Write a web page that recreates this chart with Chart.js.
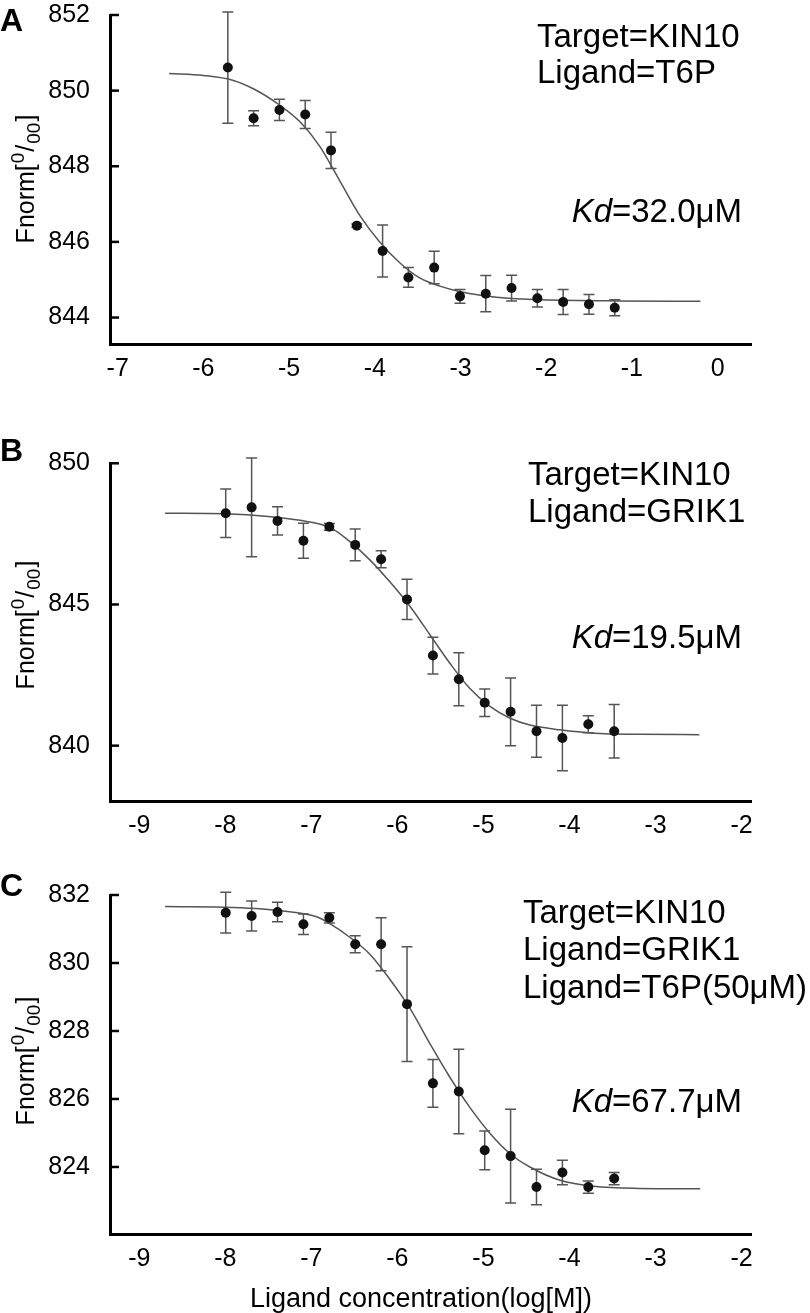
<!DOCTYPE html>
<html>
<head>
<meta charset="utf-8">
<title>MST binding curves</title>
<script src="https://cdn.jsdelivr.net/npm/chart.js@4.4.1/dist/chart.umd.min.js"></script>
<style>
    body { margin: 0; background: #fff; }
    #page { position: relative; width: 810px; height: 1313px; overflow: hidden; background: #fff; }
    #page canvas { position: absolute; left: 0; }
</style>
</head>
<body>
<div id="page">
    <canvas id="chart-a" width="810" height="420" style="top:-20px"></canvas>
    <canvas id="chart-b" width="810" height="440" style="top:420px"></canvas>
    <canvas id="chart-c" width="810" height="453" style="top:860px"></canvas>
</div>
<script>
//Panel A: KIN10 + T6P
const A_LOG_CONC = [-5.715, -5.414, -5.113, -4.812, -4.511, -4.21, -3.909, -3.608, -3.307, -3.006, -2.705, -2.404, -2.103, -1.802, -1.501, -1.2];
const A_FNORM = [850.61, 849.27, 849.49, 849.37, 848.42, 846.43, 845.76, 845.06, 845.32, 844.56, 844.63, 844.78, 844.51, 844.41, 844.35, 844.26];
const A_ERR = [1.47, 0.20, 0.28, 0.37, 0.48, 0.04, 0.69, 0.26, 0.43, 0.18, 0.48, 0.34, 0.23, 0.33, 0.26, 0.21];
const A_FIT_X = [-6.40, -6.00, -5.65, -5.40, -5.10, -4.87, -4.64, -4.41, -4.17, -3.94, -3.70, -3.47, -3.24, -3.00, -2.77, -2.40, -2.07, -1.20, -0.20];
const A_FIT_Y = [850.45, 850.40, 850.27, 850.03, 849.60, 849.17, 848.52, 847.62, 846.68, 845.99, 845.43, 845.04, 844.83, 844.68, 844.59, 844.50, 844.47, 844.44, 844.43];
const A_X_TICKS = [-7, -6, -5, -4, -3, -2, -1, 0];
const A_Y_TICKS = [844, 846, 848, 850, 852];

//Panel B: KIN10 + GRIK1
const B_LOG_CONC = [-7.995, -7.694, -7.393, -7.092, -6.791, -6.49, -6.189, -5.888, -5.587, -5.286, -4.985, -4.684, -4.383, -4.082, -3.781, -3.48];
const B_FNORM = [848.23, 848.44, 847.96, 847.26, 847.75, 847.11, 846.60, 845.18, 843.19, 842.35, 841.52, 841.20, 840.51, 840.27, 840.76, 840.51];
const B_ERR = [0.86, 1.75, 0.50, 0.62, 0.12, 0.56, 0.30, 0.71, 0.65, 0.94, 0.49, 1.20, 0.92, 1.16, 0.30, 0.95];
const B_FIT_X = [-8.70, -8.00, -7.50, -7.13, -6.78, -6.55, -6.32, -6.09, -5.85, -5.62, -5.39, -5.16, -4.92, -4.69, -4.46, -4.11, -3.72, -3.20, -2.49];
const B_FIT_Y = [848.23, 848.21, 848.12, 847.98, 847.72, 847.22, 846.58, 845.81, 844.92, 843.92, 842.92, 842.03, 841.38, 840.97, 840.73, 840.56, 840.44, 840.40, 840.39];
const B_X_TICKS = [-9, -8, -7, -6, -5, -4, -3, -2];
const B_Y_TICKS = [840, 845, 850];

//Panel C: KIN10 + GRIK1 with T6P (50 uM)
const C_LOG_CONC = [-7.995, -7.694, -7.393, -7.092, -6.791, -6.49, -6.189, -5.888, -5.587, -5.286, -4.985, -4.684, -4.383, -4.082, -3.781, -3.48];
const C_FNORM = [831.48, 831.38, 831.50, 831.14, 831.33, 830.55, 830.55, 828.79, 826.46, 826.22, 824.49, 824.32, 823.41, 823.84, 823.41, 823.66];
const C_ERR = [0.60, 0.44, 0.29, 0.30, 0.15, 0.25, 0.78, 1.69, 0.70, 1.24, 0.57, 1.38, 0.52, 0.36, 0.18, 0.18];
const C_FIT_X = [-8.70, -7.91, -7.33, -6.94, -6.78, -6.55, -6.32, -6.09, -5.85, -5.62, -5.39, -5.16, -4.92, -4.69, -4.46, -4.11, -3.72, -3.20, -2.48];
const C_FIT_Y = [831.66, 831.63, 831.53, 831.36, 831.15, 830.75, 830.26, 829.53, 828.65, 827.62, 826.64, 825.76, 824.98, 824.39, 824.00, 823.61, 823.43, 823.37, 823.36];
const C_X_TICKS = [-9, -8, -7, -6, -5, -4, -3, -2];
const C_Y_TICKS = [824, 826, 828, 830, 832];

const FONT = "'Liberation Sans', Arial, Helvetica, sans-serif";
const X_SCALE_HEIGHT = 50;

$ready();

function $ready(){
    //functions and methods
    build_panel('chart-a', {
        letter: 'A', canvas_top: -20, canvas_height: 420, chart_top: 7, chart_bottom: 344,
        x_min: -7.09, x_max: 0.39, y_min: 843.30, y_max: 852,
        log_conc: A_LOG_CONC, fnorm: A_FNORM, err: A_ERR, fit_x: A_FIT_X, fit_y: A_FIT_Y,
        x_ticks: A_X_TICKS, y_ticks: A_Y_TICKS,
        letter_y: 31, title_y: 179,
        lines: [[537, 47, 'Target=KIN10'], [537, 83, 'Ligand=T6P']],
        kd: '=32.0\u03bcM', kd_y: 222, x_title: false
    });
    build_panel('chart-b', {
        letter: 'B', canvas_top: 420, canvas_height: 440, chart_top: 463.3, chart_bottom: 801,
        x_min: -9.34, x_max: -1.89, y_min: 838.04, y_max: 850,
        log_conc: B_LOG_CONC, fnorm: B_FNORM, err: B_ERR, fit_x: B_FIT_X, fit_y: B_FIT_Y,
        x_ticks: B_X_TICKS, y_ticks: B_Y_TICKS,
        letter_y: 461, title_y: 625,
        lines: [[528, 485, 'Target=KIN10'], [528, 521.7, 'Ligand=GRIK1']],
        kd: '=19.5\u03bcM', kd_y: 648, x_title: false
    });
    build_panel('chart-c', {
        letter: 'C', canvas_top: 860, canvas_height: 453, chart_top: 894, chart_bottom: 1234.3,
        x_min: -9.34, x_max: -1.89, y_min: 822.02, y_max: 832,
        log_conc: C_LOG_CONC, fnorm: C_FNORM, err: C_ERR, fit_x: C_FIT_X, fit_y: C_FIT_Y,
        x_ticks: C_X_TICKS, y_ticks: C_Y_TICKS,
        letter_y: 896, title_y: 1061,
        lines: [[523, 923.3, 'Target=KIN10'], [523, 960, 'Ligand=GRIK1'], [523, 998.3, 'Ligand=T6P(50\u03bcM)']],
        kd: '=67.7\u03bcM', kd_y: 1111.7, x_title: true
    });
}

//One chart per panel: fitted curve + mean points, error bars and texts from a plugin
function build_panel(canvas_id, panel){
    const canvas = document.getElementById(canvas_id);
    const pad_top = panel.chart_top - panel.canvas_top;
    const pad_bottom = panel.canvas_top + panel.canvas_height - panel.chart_bottom - X_SCALE_HEIGHT;

    const fit = panel.fit_x.map((x, i) => ({x: x, y: panel.fit_y[i]}));
    const points = panel.log_conc.map((x, i) => ({x: x, y: panel.fnorm[i]}));

    const data = {
        datasets: [{
            type: 'line',
            data: fit,
            borderColor: '#555',
            borderWidth: 1.5,
            pointRadius: 0,
            cubicInterpolationMode: 'monotone',
            fill: false,
            order: 2
        }, {
            type: 'scatter',
            data: points,
            backgroundColor: '#111',
            borderColor: '#111',
            borderWidth: 0,
            pointRadius: 5,
            pointHoverRadius: 5,
            order: 0
        }]
    }

    const tick_font = {family: FONT, size: 25};

    const config = {
        type: 'scatter',
        data: data,
        options: {
            responsive: false,
            animation: false,
            events: [],
            layout: {padding: {top: pad_top, bottom: pad_bottom, left: 0, right: 59}},
            plugins: {legend: {display: false}, tooltip: {enabled: false}},
            scales: {
                x: {
                    type: 'linear', min: panel.x_min, max: panel.x_max,
                    afterBuildTicks: s => { s.ticks = panel.x_ticks.map(v => ({value: v})); },
                    afterFit: s => { s.height = X_SCALE_HEIGHT; },
                    grid: {display: false, drawTicks: false},
                    border: {display: true, color: '#000', width: 3},
                    ticks: {color: '#000', font: tick_font, padding: 10, maxRotation: 0, autoSkip: false}
                },
                y: {
                    type: 'linear', min: panel.y_min, max: panel.y_max,
                    afterBuildTicks: s => { s.ticks = panel.y_ticks.map(v => ({value: v})); },
                    afterFit: s => { s.width = 110; },
                    grid: {display: false, drawTicks: false},
                    border: {display: true, color: '#000', width: 3},
                    ticks: {color: '#000', font: tick_font, padding: 20, autoSkip: false}
                }
            }
        },
        plugins: [panel_decor(panel)]
    }

    new Chart(canvas, config);
}

function panel_decor(panel){
    const off = panel.canvas_top;
    return {
        id: 'panel_decor',
        beforeDatasetsDraw(chart){
            const {ctx, scales: {x, y}} = chart;
            ctx.save();
            ctx.strokeStyle = '#555';
            ctx.lineWidth = 1.5;
            panel.log_conc.forEach((c, i) => {
                const px = x.getPixelForValue(c);
                const top = y.getPixelForValue(panel.fnorm[i] + panel.err[i]);
                const bottom = y.getPixelForValue(panel.fnorm[i] - panel.err[i]);
                ctx.beginPath();
                ctx.moveTo(px, top); ctx.lineTo(px, bottom);
                ctx.moveTo(px - 5.5, top); ctx.lineTo(px + 5.5, top);
                ctx.moveTo(px - 5.5, bottom); ctx.lineTo(px + 5.5, bottom);
                ctx.stroke();
            });
            ctx.restore();
        },
        afterDraw(chart){
            const {ctx, chartArea, scales: {y}} = chart;
            ctx.save();

            //inward tick marks on the y axis
            ctx.strokeStyle = '#000';
            ctx.lineWidth = 2.5;
            y.ticks.forEach(t => {
                const py = y.getPixelForValue(t.value);
                ctx.beginPath();
                ctx.moveTo(chartArea.left, py);
                ctx.lineTo(chartArea.left + 9, py);
                ctx.stroke();
            });

            ctx.fillStyle = '#000';
            ctx.textBaseline = 'alphabetic';

            //panel letter
            ctx.textAlign = 'left';
            ctx.font = 'bold 32px ' + FONT;
            ctx.fillText(panel.letter, 0, panel.letter_y - off);

            //target / ligand lines
            ctx.font = '33px ' + FONT;
            panel.lines.forEach(l => ctx.fillText(l[2], l[0], l[1] - off));

            //Kd, italic part then the value
            ctx.textAlign = 'right';
            ctx.fillText(panel.kd, 742, panel.kd_y - off);
            const w = ctx.measureText(panel.kd).width;
            ctx.font = 'italic 33px ' + FONT;
            ctx.fillText('Kd', 742 - w, panel.kd_y - off);

            draw_fnorm_title(ctx, 34, panel.title_y - off);

            if (panel.x_title){
                ctx.textAlign = 'center';
                ctx.font = '27px ' + FONT;
                ctx.fillText('Ligand concentration(log[M])', 421, 1307 - off);
            }
            ctx.restore();
        }
    }
}

//Fnorm[0/00] written bottom to top, with super and subscript
function draw_fnorm_title(ctx, baseline_x, center_y){
    const big = '25px ' + FONT;
    const small = '19px ' + FONT;
    const parts = [['Fnorm[', big, 0, 0], ['0', small, -10, 1], ['/', big, 0, 1], ['00', small, 6, 1], [']', big, 0, 1]];

    let total = 0;
    parts.forEach(p => { ctx.font = p[1]; p.push(ctx.measureText(p[0]).width); total += p[4] + p[3]; });

    ctx.save();
    ctx.translate(baseline_x, center_y);
    ctx.rotate(-Math.PI / 2);
    ctx.textAlign = 'left';
    let pos = -total / 2;
    parts.forEach(p => {
        pos += p[3];
        ctx.font = p[1];
        ctx.fillText(p[0], pos, p[2]);
        pos += p[4];
    });
    ctx.restore();
}
</script>
</body>
</html>
